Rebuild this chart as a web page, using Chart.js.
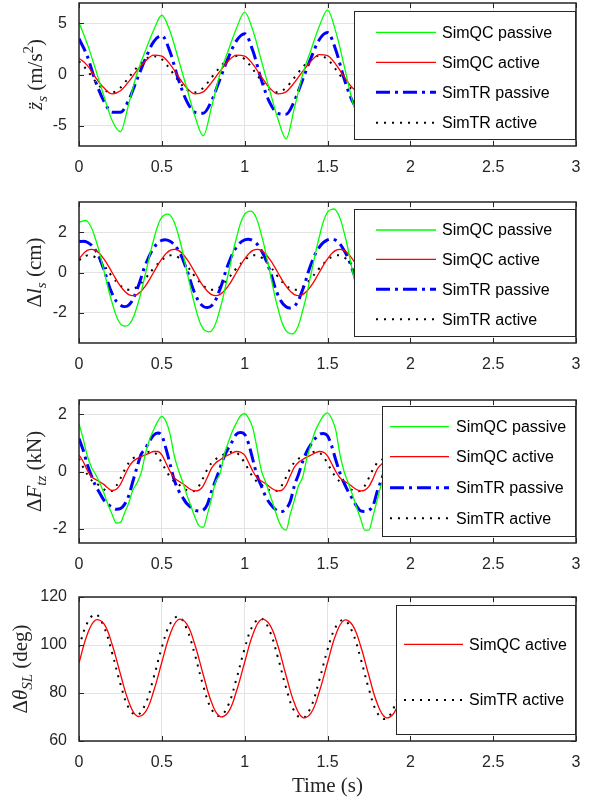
<!DOCTYPE html>
<html>
<head>
<meta charset="utf-8">
<script src="https://cdn.jsdelivr.net/npm/chart.js@4/dist/chart.umd.min.js"></script>
<style>
  html, body { margin: 0; padding: 0; background: #fff; }
  #wrap { position: relative; width: 595px; height: 802px; }
  canvas { position: absolute; left: 0; }
</style>
</head>
<body>
<div id="wrap">
  <canvas id="c1" width="595" height="185" style="top:0px"></canvas>
  <canvas id="c2" width="595" height="190" style="top:190px"></canvas>
  <canvas id="c3" width="595" height="190" style="top:385px"></canvas>
  <canvas id="c4" width="595" height="222" style="top:580px"></canvas>
</div>
<script>
// ---- data ----
const seriesNames = ['SimQC passive', 'SimQC active', 'SimTR passive', 'SimTR active'];
const xTicks = [0, 0.5, 1, 1.5, 2, 2.5, 3];
const yTicksAcc = [-5, 0, 5];
const yTicksDl = [-2, 0, 2];
const yTicksF = [-2, 0, 2];
const yTicksTheta = [60, 80, 100, 120];

// time grids (s)
const timeA = [0, 0.05, 0.1, 0.15, 0.2, 0.25, 0.3, 0.35, 0.4, 0.45, 0.5, 0.55, 0.6, 0.65, 0.7, 0.75, 0.8, 0.85, 0.9, 0.95,
  1, 1.05, 1.1, 1.15, 1.2, 1.25, 1.3, 1.35, 1.4, 1.45, 1.5, 1.55, 1.6, 1.65, 1.7];
const timeF = [0, 0.025, 0.05, 0.075, 0.1, 0.125, 0.15, 0.175, 0.2, 0.225, 0.25, 0.275, 0.3, 0.325, 0.35, 0.375, 0.4, 0.425, 0.45, 0.475,
  0.5, 0.525, 0.55, 0.575, 0.6, 0.625, 0.65, 0.675, 0.7, 0.725, 0.75, 0.775, 0.8, 0.825, 0.85, 0.875, 0.9, 0.925, 0.95, 0.975,
  1, 1.025, 1.05, 1.075, 1.1, 1.125, 1.15, 1.175, 1.2, 1.225, 1.25, 1.275, 1.3, 1.325, 1.35, 1.375, 1.4, 1.425, 1.45, 1.475,
  1.5, 1.525, 1.55, 1.575, 1.6, 1.625, 1.65, 1.675, 1.7, 1.725, 1.75, 1.775, 1.8, 1.825, 1.85];
const timeTheta = [0, 0.05, 0.1, 0.15, 0.2, 0.25, 0.3, 0.35, 0.4, 0.45, 0.5, 0.55, 0.6, 0.65, 0.7, 0.75, 0.8, 0.85, 0.9, 0.95,
  1, 1.05, 1.1, 1.15, 1.2, 1.25, 1.3, 1.35, 1.4, 1.45, 1.5, 1.55, 1.6, 1.65, 1.7, 1.75, 1.8, 1.85, 1.9, 1.95];

// panel 1: z_s'' (m/s^2)
const accQCpassive = [5.1, 3.0, 0.5, -2.1, -4.5, -5.6, -2.9, 0.1, 2.3, 4.3, 5.8, 4.2, 1.5, -1.3, -4.1, -6.0, -3.2, 0.0, 2.3, 4.5,
  6.1, 4.3, 1.4, -1.5, -4.3, -6.3, -3.3, 0.0, 2.4, 4.7, 6.3, 4.2, 0.9, -2.6, -5.0];
const accQCactive = [1.6, 0.9, -0.3, -1.3, -1.9, -1.6, -0.7, 0.4, 1.3, 1.9, 1.8, 1.0, -0.2, -1.3, -1.9, -1.7, -0.8, 0.3, 1.3, 1.9,
  1.8, 1.0, -0.2, -1.3, -1.9, -1.7, -0.8, 0.3, 1.3, 1.95, 1.85, 1.0, -0.2, -1.3, -1.9];
const accTRpassive = [3.5, 1.8, -0.7, -2.6, -3.7, -3.7, -2.5, -0.5, 1.5, 3.2, 3.8, 2.2, -0.5, -2.6, -3.7, -3.8, -2.6, -0.5, 1.6, 3.3,
  4.0, 2.3, -0.5, -2.7, -3.8, -3.9, -2.6, -0.5, 1.6, 3.4, 4.1, 2.4, -0.4, -2.6, -3.8];
const accTRactive = [1.3, 0.4, -0.7, -1.5, -1.75, -1.3, -0.3, 0.7, 1.5, 1.8, 1.5, 0.5, -0.6, -1.5, -1.75, -1.3, -0.3, 0.7, 1.5, 1.8,
  1.5, 0.5, -0.6, -1.5, -1.75, -1.3, -0.3, 0.7, 1.5, 1.85, 1.5, 0.5, -0.6, -1.5, -1.75];

// panel 2: delta l_s (cm)
const dlQCpassive = [2.5, 2.55, 1.65, 0.1, -1.5, -2.55, -2.6, -1.7, -0.1, 1.6, 2.75, 2.85, 1.85, 0.1, -1.65, -2.8, -2.9, -1.85, -0.1, 1.7,
  2.9, 3.0, 1.9, 0.1, -1.75, -2.9, -3.0, -1.9, -0.1, 1.75, 3.0, 3.1, 2.0, 0.1, -1.8];
const dlQCactive = [0.68, 1.1, 1.1, 0.68, 0.0, -0.68, -1.1, -1.1, -0.68, 0.0, 0.68, 1.1, 1.1, 0.68, 0.0, -0.68, -1.1, -1.1, -0.68, 0.0,
  0.68, 1.1, 1.1, 0.68, 0.0, -0.68, -1.1, -1.1, -0.68, 0.0, 0.68, 1.1, 1.1, 0.68, 0.0];
const dlTRpassive = [1.55, 1.5, 1.1, 0.15, -1.05, -1.62, -1.62, -0.85, 0.35, 1.2, 1.6, 1.55, 1.1, 0.15, -1.05, -1.68, -1.65, -0.85, 0.4, 1.25,
  1.62, 1.58, 1.1, 0.15, -1.1, -1.7, -1.68, -0.85, 0.4, 1.25, 1.62, 1.6, 1.1, 0.15, -1.1];
const dlTRactive = [0.62, 0.85, 0.75, 0.35, -0.2, -0.65, -0.86, -0.72, -0.3, 0.2, 0.62, 0.85, 0.75, 0.35, -0.2, -0.65, -0.86, -0.72, -0.3, 0.2,
  0.62, 0.85, 0.75, 0.35, -0.2, -0.65, -0.86, -0.72, -0.3, 0.2, 0.62, 0.85, 0.75, 0.35, -0.2];

// panel 3: delta F_tz (kN)
const fQCpassive = [1.67, 1.15, 0.55, 0.15, -0.1, -0.4, -0.75, -1.15, -1.5, -1.8,
  -1.78, -1.45, -1.1, -0.65, -0.4, -0.05, 0.6, 1.1, 1.45, 1.75,
  1.93, 1.75, 1.3, 0.55, 0.05, -0.35, -0.8, -1.2, -1.6, -1.9,
  -1.95, -1.5, -0.95, -0.35, -0.1, 0.55, 1.0, 1.4, 1.7, 1.95,
  2.02, 1.85, 1.5, 0.8, 0.05, -0.35, -0.77, -1.2, -1.65, -1.95,
  -2.05, -1.5, -1.0, -0.5, -0.2, 0.45, 0.95, 1.4, 1.7, 1.95,
  2.05, 1.85, 1.45, 0.6, 0.0, -0.4, -0.8, -1.25, -1.65, -2.05,
  -2.05, -1.55, -1.0, -0.45, -0.15];
const fQCactive = [0.57, 0.35, 0.05, -0.18, -0.28, -0.36, -0.45, -0.58, -0.66, -0.62,
  -0.45, -0.15, 0.15, 0.35, 0.45, 0.52, 0.58, 0.64, 0.7, 0.7,
  0.58, 0.3, 0.0, -0.22, -0.33, -0.42, -0.53, -0.63, -0.68, -0.65,
  -0.5, -0.2, 0.12, 0.3, 0.4, 0.5, 0.57, 0.65, 0.7, 0.68,
  0.57, 0.3, 0.0, -0.22, -0.33, -0.42, -0.53, -0.63, -0.68, -0.65,
  -0.48, -0.15, 0.15, 0.32, 0.42, 0.5, 0.57, 0.65, 0.7, 0.68,
  0.55, 0.28, 0.0, -0.22, -0.33, -0.42, -0.53, -0.63, -0.68, -0.65,
  -0.52, -0.25, 0.08, 0.25, 0.4];
const fTRpassive = [1.15, 0.75, 0.25, -0.15, -0.5, -0.75, -1.0, -1.15, -1.25, -1.32,
  -1.3, -1.15, -0.85, -0.35, 0.15, 0.6, 0.8, 1.05, 1.27, 1.35,
  1.25, 0.8, 0.25, -0.3, -0.65, -0.9, -1.12, -1.25, -1.35, -1.38,
  -1.35, -1.15, -0.7, -0.3, 0.1, 0.5, 0.8, 1.05, 1.3, 1.36,
  1.3, 0.95, 0.4, -0.15, -0.5, -0.85, -1.1, -1.27, -1.38, -1.4,
  -1.3, -1.05, -0.5, -0.1, 0.35, 0.7, 0.95, 1.15, 1.3, 1.33,
  1.25, 0.9, 0.4, -0.05, -0.4, -0.7, -0.95, -1.2, -1.38, -1.4,
  -1.35, -1.2, -0.7, -0.3, 0.1];
const fTRactive = [0.45, 0.15, -0.1, -0.3, -0.4, -0.5, -0.62, -0.7, -0.68, -0.5,
  -0.25, 0.05, 0.3, 0.45, 0.53, 0.6, 0.65, 0.69, 0.68, 0.55,
  0.3, 0.05, -0.2, -0.35, -0.45, -0.55, -0.65, -0.7, -0.66, -0.5,
  -0.22, 0.08, 0.3, 0.43, 0.52, 0.6, 0.65, 0.69, 0.66, 0.52,
  0.3, 0.05, -0.2, -0.36, -0.46, -0.56, -0.65, -0.7, -0.65, -0.48,
  -0.2, 0.1, 0.32, 0.45, 0.53, 0.6, 0.65, 0.69, 0.66, 0.52,
  0.28, 0.03, -0.2, -0.36, -0.46, -0.56, -0.65, -0.7, -0.66, -0.5,
  -0.22, 0.08, 0.3, 0.4, 0.5];

// panel 4: delta theta_SL (deg)
const thetaQCactive = [92.5, 104.4, 110.4, 108.9, 100.2, 87.9, 76.4, 70.4, 72.0, 80.6,
  92.8, 104.5, 110.6, 108.8, 100.0, 87.6, 76.1, 70.2, 71.9, 80.6,
  92.8, 104.5, 110.6, 108.6, 99.8, 87.3, 75.8, 69.8, 71.6, 80.4,
  92.6, 104.3, 110.3, 108.4, 99.6, 87.2, 75.7, 69.8, 71.5, 80.2];
const thetaTRactive = [99.2, 109.2, 112.8, 107.7, 96.7, 83.8, 73.8, 70.8, 75.3, 86.3,
  99.0, 108.8, 111.8, 106.8, 95.8, 83.0, 73.2, 70.4, 74.8, 85.8,
  98.5, 108.2, 111.0, 106.0, 95.0, 82.2, 72.4, 69.5, 74.2, 85.2,
  98.0, 107.6, 110.4, 105.4, 94.4, 81.6, 71.8, 69.2, 73.8, 84.8];

// ---- styles ----
const styles = {
  'SimQC passive': { color: '#00ff00', width: 1.3, dash: [] },
  'SimQC active':  { color: '#ff0000', width: 1.3, dash: [] },
  'SimTR passive': { color: '#0000ff', width: 3,   dash: [14, 5, 3, 5] },
  'SimTR active':  { color: '#000000', width: 2,   dash: [2, 6] }
};
const axisColor = '#262626';
const gridColor = '#e3e3e3';
const tickFont = { family: '"Liberation Sans", Arial, sans-serif', size: 16 };
const labelSize = 21;

const panels = [
  { id: 'c1', top: 0, height: 185, areaTop: 3, areaBottom: 146, yMin: -7, yMax: 7, yTicks: yTicksAcc,
    time: timeA, names: seriesNames, values: [accQCpassive, accQCactive, accTRpassive, accTRactive], smooth: 'monotone',
    label: [{ t: 'z\u0308', it: true }, { t: 's', it: true, pos: 'sub' }, { t: ' (m/s' }, { t: '2', pos: 'sup' }, { t: ')' }], labelX: 35,
    legend: { x: 354, y: 11, w: 222, h: 129, lx1: 376, lx2: 436, tx: 442, rows: [32.3, 62.3, 92.3, 122.7] } },
  { id: 'c2', top: 190, height: 190, areaTop: 202, areaBottom: 343, yMin: -3.5, yMax: 3.5, yTicks: yTicksDl,
    time: timeA, names: seriesNames, values: [dlQCpassive, dlQCactive, dlTRpassive, dlTRactive], smooth: 'default',
    label: [{ t: '\u0394' }, { t: 'l', it: true }, { t: 's', it: true, pos: 'sub' }, { t: ' (cm)' }], labelX: 34,
    legend: { x: 354, y: 209, w: 222, h: 128, lx1: 376, lx2: 436, tx: 442, rows: [230, 259.3, 289.3, 319.3] } },
  { id: 'c3', top: 385, height: 190, areaTop: 400, areaBottom: 543, yMin: -2.5, yMax: 2.5, yTicks: yTicksF,
    time: timeF, names: seriesNames, values: [fQCpassive, fQCactive, fTRpassive, fTRactive], smooth: 'monotone',
    label: [{ t: '\u0394' }, { t: 'F', it: true }, { t: 'tz', it: true, pos: 'sub' }, { t: ' (kN)' }], labelX: 34,
    legend: { x: 382, y: 406, w: 194, h: 131, lx1: 390, lx2: 449, tx: 456, rows: [426.7, 456.7, 487.7, 518.3] } },
  { id: 'c4', top: 580, height: 222, areaTop: 597, areaBottom: 741, yMin: 60, yMax: 120, yTicks: yTicksTheta,
    time: timeTheta, names: ['SimQC active', 'SimTR active'], values: [thetaQCactive, thetaTRactive], smooth: 'default',
    label: [{ t: '\u0394' }, { t: '\u03b8', it: true }, { t: 'SL', it: true, pos: 'sub' }, { t: ' (deg)' }], labelX: 20,
    legend: { x: 396, y: 605, w: 180, h: 130, lx1: 404, lx2: 463, tx: 469, rows: [644.3, 700] },
    xTitle: { text: 'Time (s)', y: 786 } }
];

function serifFont(size, it) {
  return (it ? 'italic ' : '') + size + 'px "Liberation Serif", "Times New Roman", serif';
}

function drawRichLabel(ctx, segs, cx, cy, size) {
  ctx.save();
  ctx.translate(cx, cy);
  ctx.rotate(-Math.PI / 2);
  ctx.fillStyle = axisColor;
  ctx.textBaseline = 'alphabetic';
  ctx.textAlign = 'left';
  const fontOf = s => serifFont(s.pos ? Math.round(size * 0.7) : size, s.it);
  let total = 0;
  segs.forEach(s => { ctx.font = fontOf(s); s.w = ctx.measureText(s.t).width; total += s.w; });
  let x = -total / 2;
  const base = size * 0.33;
  segs.forEach(s => {
    ctx.font = fontOf(s);
    const dy = s.pos === 'sub' ? size * 0.22 : (s.pos === 'sup' ? -size * 0.42 : 0);
    ctx.fillText(s.t, x, base + dy);
    x += s.w;
  });
  ctx.restore();
}

function framePlugin(p) {
  return {
    id: 'frame' + p.id,
    afterDraw(chart) {
      const ctx = chart.ctx;
      const a = chart.chartArea;
      const xs = chart.scales.x, ys = chart.scales.y;
      ctx.save();
      ctx.setLineDash([]);
      // inward tick marks
      ctx.strokeStyle = axisColor;
      ctx.lineWidth = 1;
      ctx.beginPath();
      xTicks.forEach(v => {
        const px = Math.round(xs.getPixelForValue(v)) + 0.5;
        ctx.moveTo(px, a.bottom); ctx.lineTo(px, a.bottom - 5);
        ctx.moveTo(px, a.top); ctx.lineTo(px, a.top + 5);
      });
      p.yTicks.forEach(v => {
        const py = Math.round(ys.getPixelForValue(v)) + 0.5;
        ctx.moveTo(a.left, py); ctx.lineTo(a.left + 5, py);
        ctx.moveTo(a.right, py); ctx.lineTo(a.right - 5, py);
      });
      ctx.stroke();
      // axes box
      ctx.lineWidth = 1.5;
      ctx.strokeRect(a.left, a.top, a.right - a.left, a.bottom - a.top);

      // legend box
      const lg = p.legend;
      const y0 = lg.y - p.top;
      ctx.fillStyle = '#ffffff';
      ctx.fillRect(lg.x, y0, lg.w, lg.h);
      ctx.lineWidth = 1;
      ctx.strokeStyle = axisColor;
      ctx.strokeRect(lg.x + 0.5, y0 + 0.5, lg.w - 1, lg.h - 1);
      p.names.forEach((n, i) => {
        const st = styles[n];
        const y = lg.rows[i] - p.top;
        ctx.beginPath();
        ctx.strokeStyle = st.color;
        ctx.lineWidth = st.width;
        ctx.setLineDash(st.dash);
        ctx.moveTo(lg.lx1, y); ctx.lineTo(lg.lx2, y);
        ctx.stroke();
        ctx.setLineDash([]);
        ctx.fillStyle = '#000000';
        ctx.font = '16px "Liberation Sans", Arial, sans-serif';
        ctx.textBaseline = 'middle';
        ctx.textAlign = 'left';
        ctx.fillText(n, lg.tx, y + 1);
      });

      // y axis label
      drawRichLabel(ctx, p.label, p.labelX, (a.top + a.bottom) / 2, labelSize);

      // x axis title
      if (p.xTitle) {
        ctx.fillStyle = axisColor;
        ctx.font = serifFont(labelSize, false);
        ctx.textAlign = 'center';
        ctx.textBaseline = 'middle';
        ctx.fillText(p.xTitle.text, (a.left + a.right) / 2, p.xTitle.y - p.top);
      }
      ctx.restore();
    }
  };
}

panels.forEach(p => {
  const datasets = p.names.map((n, k) => {
    const st = styles[n];
    return {
      label: n,
      data: p.values[k].map((v, i) => ({ x: p.time[i], y: v })),
      borderColor: st.color,
      backgroundColor: st.color,
      borderWidth: st.width,
      borderDash: st.dash,
      pointRadius: 0,
      fill: false,
      tension: 0.4,
      cubicInterpolationMode: p.smooth
    };
  });
  const xh = p.top + p.height - p.areaBottom;
  new Chart(document.getElementById(p.id), {
    type: 'line',
    data: { datasets },
    options: {
      responsive: false,
      animation: false,
      devicePixelRatio: 1,
      layout: { padding: { top: p.areaTop - p.top, right: 19, bottom: 0, left: 0 } },
      plugins: { legend: { display: false }, tooltip: { enabled: false } },
      scales: {
        x: {
          type: 'linear', min: 0, max: 3,
          afterBuildTicks: s => { s.ticks = xTicks.map(v => ({ value: v })); },
          afterFit: s => { s.height = xh; s.paddingLeft = 0; s.paddingRight = 0; },
          grid: { color: gridColor, drawTicks: false },
          border: { display: false },
          ticks: { padding: 12, color: axisColor, font: tickFont, maxRotation: 0, autoSkip: false, callback: v => String(v) }
        },
        y: {
          type: 'linear', min: p.yMin, max: p.yMax,
          afterBuildTicks: s => { s.ticks = p.yTicks.map(v => ({ value: v })); },
          afterFit: s => { s.width = 79; s.paddingTop = 0; s.paddingBottom = 0; },
          grid: { color: gridColor, drawTicks: false },
          border: { display: false },
          ticks: { padding: 12, color: axisColor, font: tickFont, autoSkip: false, callback: v => String(v) }
        }
      }
    },
    plugins: [framePlugin(p)]
  });
});
</script>
</body>
</html>
